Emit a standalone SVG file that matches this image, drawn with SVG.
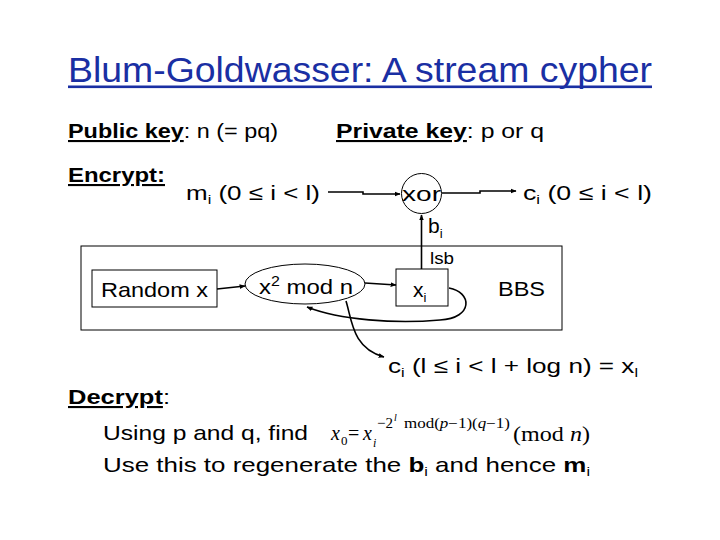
<svg xmlns="http://www.w3.org/2000/svg" width="720" height="540" viewBox="0 0 720 540">
<defs>
<style>
text{font-family:"Liberation Sans","DejaVu Sans",sans-serif;fill:#000;}
.t{font-size:21px;}
.b{font-weight:bold;text-decoration:underline;}
.sub{font-size:13px;}
.m{font-family:"Liberation Serif","DejaVu Serif",serif;}
.it{font-style:italic;}
.shape{fill:#fff;stroke:#000;stroke-width:1;}
.con{fill:none;stroke:#000;stroke-width:1.6;}
</style>
<marker id="ah" viewBox="0 0 10 10" refX="9" refY="5" markerWidth="6" markerHeight="6" orient="auto" markerUnits="userSpaceOnUse">
<path d="M0,1 L10,5 L0,9 z" fill="#000"/>
</marker>
</defs>
<rect width="720" height="540" fill="#fff"/>

<g id="title">
<text x="68" y="82" font-size="35" style="fill:#1a2fa3" textLength="584" lengthAdjust="spacingAndGlyphs">Blum-Goldwasser: A stream cypher</text>
<rect x="68" y="85.5" width="584" height="2.6" fill="#1a2fa3"/>
</g>

<g id="keys">
<text class="t" x="68" y="138" textLength="210" lengthAdjust="spacingAndGlyphs"><tspan class="b">Public key</tspan>: n (= pq)</text>
<text class="t" x="336" y="138" textLength="208" lengthAdjust="spacingAndGlyphs"><tspan class="b">Private key</tspan>: p or q</text>
</g>

<g id="encrypt-label">
<text class="t" x="68" y="182" textLength="97" lengthAdjust="spacingAndGlyphs"><tspan class="b">Encrypt:</tspan></text>
</g>

<g id="big-box">
<rect class="shape" x="81" y="246" width="481" height="84"/>
<text class="t" x="498" y="296" textLength="47" lengthAdjust="spacingAndGlyphs">BBS</text>
</g>

<g id="m-input">
<text class="t" x="186" y="200" textLength="134" lengthAdjust="spacingAndGlyphs">m<tspan class="sub" dy="4">i</tspan><tspan dy="-4"> (0 ≤ i &lt; l)</tspan></text>
</g>

<g id="xor">
<circle class="shape" cx="421.5" cy="193.5" r="20"/>
<text class="t" x="402" y="201" textLength="39" lengthAdjust="spacingAndGlyphs">xor</text>
</g>

<g id="c-output">
<text class="t" x="523" y="200" textLength="129" lengthAdjust="spacingAndGlyphs">c<tspan class="sub" dy="4">i</tspan><tspan dy="-4"> (0 ≤ i &lt; l)</tspan></text>
</g>

<g id="random-x">
<rect class="shape" x="92" y="270" width="125" height="37"/>
<text class="t" x="101" y="297" textLength="107" lengthAdjust="spacingAndGlyphs">Random x</text>
</g>

<g id="square-mod">
<ellipse class="shape" cx="305" cy="284" rx="60" ry="20"/>
<text class="t" x="259" y="294" textLength="94" lengthAdjust="spacingAndGlyphs">x<tspan font-size="14" dy="-8">2</tspan><tspan dy="8"> mod n</tspan></text>
</g>

<g id="xi">
<rect class="shape" x="396" y="269" width="52" height="37"/>
<text class="t" x="413" y="297">x<tspan class="sub" dy="5">i</tspan></text>
</g>

<g id="labels">
<text class="t" x="428" y="233">b<tspan class="sub" dy="5">i</tspan></text>
<text x="430" y="264" font-size="17" textLength="24" lengthAdjust="spacingAndGlyphs">lsb</text>
</g>

<g id="c-tail">
<text class="t" x="388" y="373" textLength="250" lengthAdjust="spacingAndGlyphs">c<tspan class="sub" dy="4">i</tspan><tspan dy="-4"> (l ≤ i &lt; l + log n) = x</tspan><tspan class="sub" dy="4">l</tspan></text>
</g>

<g id="decrypt">
<text class="t" x="68" y="404" textLength="102" lengthAdjust="spacingAndGlyphs"><tspan class="b">Decrypt</tspan>:</text>
<text class="t" x="103" y="440" textLength="205" lengthAdjust="spacingAndGlyphs">Using p and q, find</text>
<text class="t" x="103" y="472" textLength="487" lengthAdjust="spacingAndGlyphs">Use this to regenerate the <tspan font-weight="bold">b</tspan><tspan class="sub" dy="4">i</tspan><tspan dy="-4"> and hence </tspan><tspan font-weight="bold">m</tspan><tspan class="sub" dy="4">i</tspan></text>
</g>

<g id="formula">
<text class="m it" x="331" y="440" font-size="20">x</text>
<text class="m" x="341" y="445" font-size="13">0</text>
<text class="m" x="348" y="440" font-size="20">=</text>
<text class="m it" x="363" y="440" font-size="20">x</text>
<text class="m it" x="373" y="447" font-size="12">i</text>
<text class="m" x="377" y="428" font-size="15">−2</text>
<text class="m it" x="394" y="421" font-size="10">l</text>
<text class="m" x="404" y="428" font-size="14" textLength="106" lengthAdjust="spacingAndGlyphs">mod(<tspan class="it">p</tspan>−1)(<tspan class="it">q</tspan>−1)</text>
<text class="m" x="513" y="441" font-size="21" textLength="77" lengthAdjust="spacingAndGlyphs">(mod <tspan class="it">n</tspan>)</text>
</g>

<g id="connectors">
<polyline class="con" points="328,192 363,192 363,194 400,194" marker-end="url(#ah)"/>
<polyline class="con" points="442,193 480,193 480,191 516,191" marker-end="url(#ah)"/>
<line class="con" x1="421.5" y1="269" x2="421.5" y2="215" marker-end="url(#ah)"/>
<line class="con" x1="217" y1="289" x2="245" y2="286" marker-end="url(#ah)"/>
<line class="con" x1="365" y1="283" x2="396" y2="285" marker-end="url(#ah)"/>
<path class="con" d="M449,288 C472,292 474,318 440,320 C395,324 340,320 307,307" marker-end="url(#ah)"/>
<path class="con" d="M346,301 C352,320 352,348 384,357" marker-end="url(#ah)"/>
</g>
</svg>
